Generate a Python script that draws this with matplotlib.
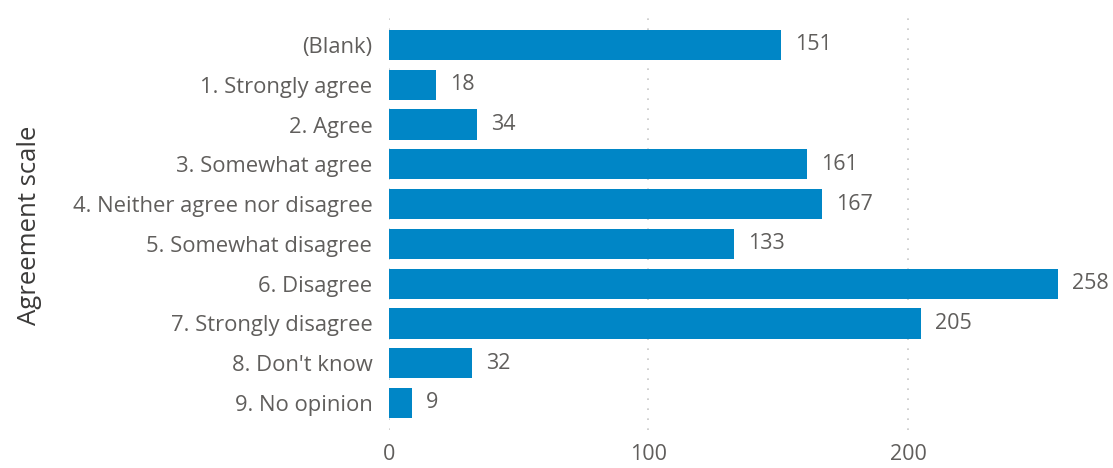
import matplotlib.pyplot as plt

categories = ["(Blank)", "1. Strongly agree", "2. Agree", "3. Somewhat agree",
              "4. Neither agree nor disagree", "5. Somewhat disagree",
              "6. Disagree", "7. Strongly disagree", "8. Don't know",
              "9. No opinion"]
counts = [151, 18, 34, 161, 167, 133, 258, 205, 32, 9]
xticks = [0, 100, 200]

plt.rcParams['font.family'] = ['Open Sans', 'DejaVu Sans']

fig = plt.figure(figsize=(11.13, 4.68), dpi=100)
ax = fig.add_axes([389 / 1113, 1 - 430 / 468, (1060 - 389) / 1113, 420 / 468])

ypos = list(range(len(categories)))
ax.barh(ypos, counts, height=0.76, color="#0086C6", zorder=3)

for y, v in zip(ypos, counts):
    ax.annotate(str(v), (v, y), xytext=(10, 0), textcoords="offset points",
                va="center", ha="left", fontsize=15.5, color="#605E5C")

ax.set_xlim(0, 258.6)
ax.set_ylim(9.68, -0.88)
ax.set_yticks(ypos)
ax.set_yticklabels(categories, fontsize=15.8, color="#605E5C")
ax.set_xticks(xticks)
ax.set_xticklabels([str(t) for t in xticks], fontsize=15.5, color="#605E5C")
ax.tick_params(length=0)
ax.tick_params(axis='x', pad=10)
ax.tick_params(axis='y', pad=12)

ax.grid(axis='x', color="#C8C8C8", linestyle=(0, (1, 5)), linewidth=1.2, zorder=0)
for s in ax.spines.values():
    s.set_visible(False)

fig.text(30 / 1113, 1 - 225 / 468, "Agreement scale", rotation=90, fontsize=18.5,
         color="#3B3A39", ha="center", va="center")

fig.savefig("out.png", dpi=100)
